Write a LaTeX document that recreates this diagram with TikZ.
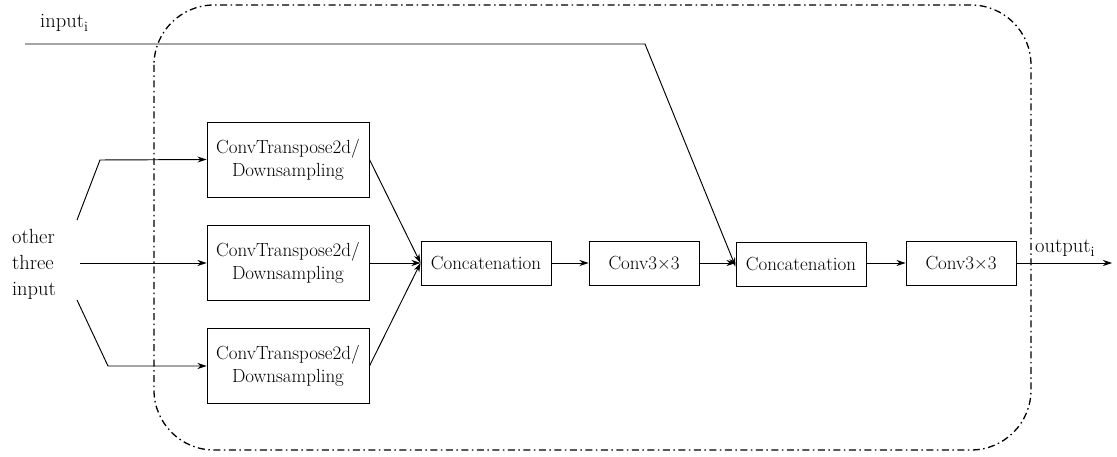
\documentclass[tikz,border=0pt]{standalone}
\usepackage{fontspec}
\usetikzlibrary{arrows.meta}
\begin{document}
\begin{tikzpicture}[x=1pt,y=-1pt,
  blk/.style={draw, line width=0.95pt, inner sep=0pt, align=center,
    font=\fontsize{19}{23}\selectfont},
  convt/.style={blk, minimum width=162pt, minimum height=75pt},
  catbox/.style={blk, minimum width=130pt, minimum height=44pt},
  convbox/.style={blk, minimum width=110pt, minimum height=44pt},
  lbl/.style={inner sep=0pt, font=\fontsize{20.5}{26}\selectfont, align=left},
  conn/.style={line width=0.95pt, -{Stealth[length=9pt,width=6pt]}},
  dashdot/.style={line width=1.3pt, dash pattern=on 7pt off 3.5pt on 1.5pt off 3.5pt}]
\useasboundingbox (0,0) rectangle (1117,457);
% enclosing dash-dot rounded box
\draw[dashdot, rounded corners=60pt] (154,5) rectangle (1031,450);

% nodes
\node[convt] (t1) at (288,159.5) {ConvTranspose2d/\\Downsampling};
\node[convt] (t2) at (288,263) {ConvTranspose2d/\\Downsampling};
\node[convt] (t3) at (288,366) {ConvTranspose2d/\\Downsampling};
\node[catbox] (c1) at (486,263) {Concatenation};
\node[convbox] (v1) at (644,263) {Conv3×3};
\node[catbox] (c2) at (801,264.5) {Concatenation};
\node[convbox] (v2) at (961,263) {Conv3×3};

\node[lbl] (oth) at (34,264) {other\\three\\input};
\node[lbl, anchor=base west] (inp) at (40,28) {input\textsubscript{i}};
\node[lbl, anchor=base west] (outp) at (1035,253) {output\textsubscript{i}};

% coordinates
\coordinate (a1) at (77,220);
\coordinate (a2) at (100,160);
\coordinate (m1) at (80,263);
\coordinate (b1) at (77,300);
\coordinate (b2) at (108,366);
\coordinate (i1) at (25,44);
\coordinate (i2) at (645,44);
\coordinate (o1) at (1112,263);

% connectors
\draw[conn] (a1) -- (a2) -- (t1.west);
\draw[conn] (m1) -- (t2.west);
\draw[conn] (b1) -- (b2) -- (t3.west);
\draw[conn] (t1.east) -- (c1.west);
\draw[conn] (t2.east) -- (c1.west);
\draw[conn] (t3.east) -- (c1.west);
\draw[conn] (c1.east) -- (v1.west);
\draw[conn] (v1.east) -- (c2.west |- v1.east);
\draw[conn] (i1) -- (i2) -- ([yshift=-2pt]c2.west);
\draw[conn] (c2.east |- v2.west) -- (v2.west);
\draw[conn] (v2.east) -- (o1);
\end{tikzpicture}
\end{document}
